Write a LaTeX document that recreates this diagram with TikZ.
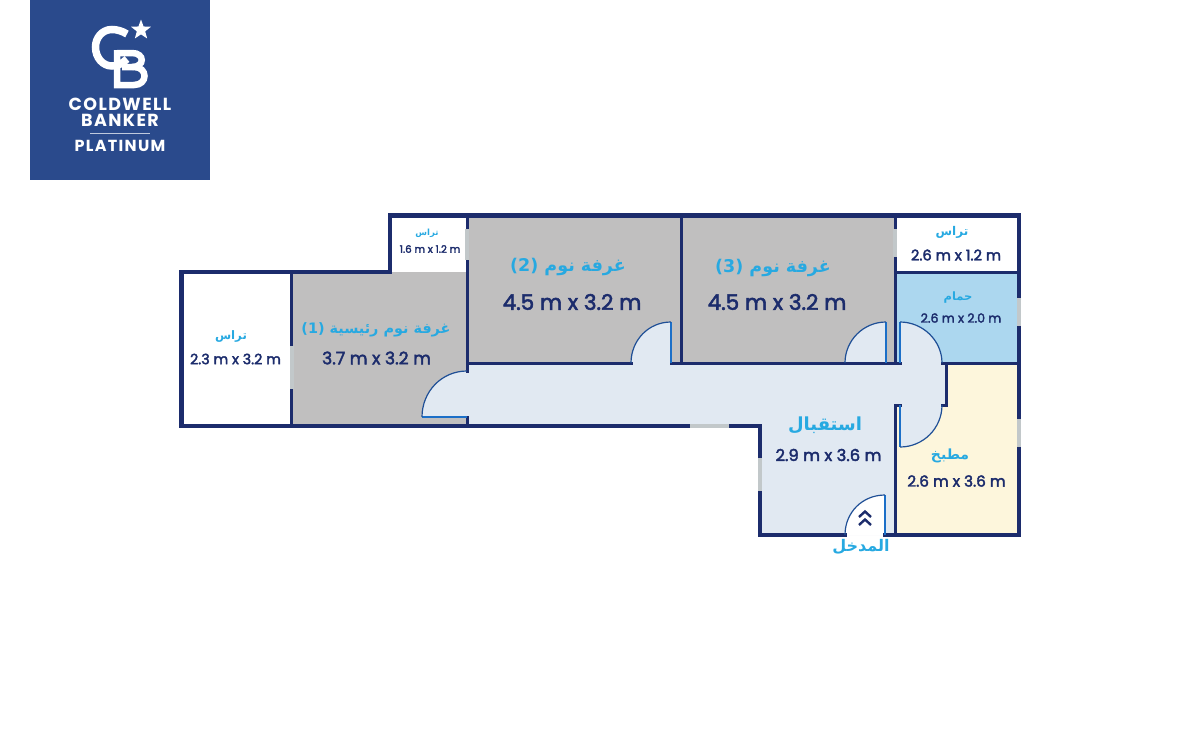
\documentclass[tikz,border=0pt]{standalone}
\usepackage{fontspec}
\setmainfont{Poppins}
\newfontfamily\arabicfont[Script=Arabic]{DejaVu Sans}
\newfontfamily\dimfont[FakeBold=2.5]{Poppins}
\newfontfamily\logofont[LetterSpace=8]{Poppins}
\TeXXeTstate=1
\usetikzlibrary{shapes.geometric}
\definecolor{wallc}{HTML}{1C2C6C}
\definecolor{doorc}{HTML}{1B6FC8}
\definecolor{arcc}{HTML}{1F4F96}
\definecolor{titlec}{HTML}{27A9E1}
\definecolor{hallc}{HTML}{E1E9F2}
\definecolor{bedc}{HTML}{C0BFBF}
\definecolor{bathc}{HTML}{ACD7EF}
\definecolor{kitc}{HTML}{FDF6DC}
\definecolor{logoc}{HTML}{2A4A8C}
\definecolor{winc}{HTML}{C2C8CA}
\newcommand{\ar}[1]{{\arabicfont\beginR #1\endR}}
\tikzset{
  x=1pt,y=-1pt,
  wall/.style={draw=wallc,line width=4.4pt,line cap=rect,line join=miter},
  thinwall/.style={draw=wallc,line width=3pt,line cap=rect},
  winpart/.style={draw=winc,line width=3.6pt},
  leaf/.style={draw=doorc,line width=2.6pt},
  swing/.style={draw=arcc,line width=1.2pt},
  title/.style={text=titlec,inner sep=0pt,font=\bfseries},
  dimtext/.style={text=wallc,inner sep=0pt},
  logotext/.style={text=white,inner sep=0pt},
}
\begin{document}
\begin{tikzpicture}
\useasboundingbox (0,0) rectangle (1200,750);
% logo
\fill[logoc] (30,0) rectangle (210,180);
\draw[white,line width=7.5pt] (127,34) .. controls (122,31) and (117,29.5) .. (112,29.5) .. controls (102,29.5) and (95.5,38) .. (95.5,47) .. controls (95.5,58) and (103,66) .. (112,66) .. controls (117,66) and (122,64) .. (127,59);
\draw[white,line width=6.5pt,line join=miter] (117,50) -- (117,85) -- (134,85) .. controls (148,85) and (148,67) .. (134,67) -- (122,67);
\draw[white,line width=6.5pt] (117,53) -- (132,53) .. controls (145,53) and (145,67) .. (132,67);
\node[star,star points=5,star point ratio=2.4,fill=white,minimum size=21pt,inner sep=0pt] (logostar) at (141,30) {};
\node[logotext,font=\logofont\bfseries\fontsize{17.5}{17.5}\selectfont] (logoa) at (120,104) {COLDWELL};
\node[logotext,font=\logofont\bfseries\fontsize{17.5}{17.5}\selectfont] (logob) at (120,120) {BANKER};
\draw[white!70!logoc,line width=0.8pt] (90,133.5) -- (150,133.5);
\node[logotext,font=\logofont\bfseries\fontsize{16}{16}\selectfont] (logoc) at (120,146) {PLATINUM};
% room fills
\fill[bedc] (291,272) rectangle (467,426);
\fill[bedc] (467,215) rectangle (681,363);
\fill[bedc] (681,215) rectangle (895,363);
\fill[bathc] (895,272) rectangle (1019,363);
\fill[kitc] (895,363) rectangle (1019,535);
\fill[hallc] (467,363) -- (947,363) -- (947,405) -- (895,405) -- (895,535) -- (760,535) -- (760,426) -- (467,426) -- cycle;
% door swings
\fill[hallc] (467,417) -- (422,417) .. controls (422,391.6) and (441.6,371) .. (467,371) -- cycle;
\fill[hallc] (671,363) -- (671,322) .. controls (648.4,322) and (631,340.4) .. (631,363) -- cycle;
\fill[hallc] (886,363) -- (886,322) .. controls (863.4,322) and (845,340.4) .. (845,363) -- cycle;
\fill[hallc] (900,363) -- (900,322) .. controls (922.6,322) and (942,340.4) .. (942,363) -- cycle;
\fill[hallc] (900,405) -- (900,447) .. controls (923.2,447) and (942,428.2) .. (942,405) -- cycle;
\fill[white] (885,535) -- (885,495) .. controls (862.4,495) and (845,512.4) .. (845,535) -- cycle;
% outer walls
\draw[wall] (390,272) -- (390,215.5) -- (1019,215.5) -- (1019,535) -- (885,535);
\draw[wall] (845,535) -- (760,535) -- (760,426) -- (181.5,426) -- (181.5,272) -- (390,272);
% inner walls
\draw[thinwall] (291.7,272) -- (291.7,426);
\draw[thinwall] (467,215) -- (467,371);
\draw[thinwall] (467,417) -- (467,426);
\draw[thinwall] (467,363) -- (631,363);
\draw[thinwall] (671,363) -- (886,363);
\draw[thinwall] (681,215) -- (681,363);
\draw[thinwall] (895,215) -- (895,363);
\draw[thinwall] (895,272.7) -- (1019,272.7);
\draw[thinwall] (886,363) -- (900,363);
\draw[thinwall] (942,363) -- (1019,363);
\draw[thinwall] (946.7,363) -- (946.7,405) -- (942,405);
\draw[thinwall] (900,405) -- (895,405) -- (895,535);
% windows
\draw[winpart] (467,229) -- (467,260);
\draw[winpart] (291.7,346) -- (291.7,389);
\draw[winpart] (690,426) -- (729,426);
\draw[winpart] (760,458) -- (760,491);
\draw[winpart] (895,229) -- (895,257);
\draw[winpart] (1019,298) -- (1019,326);
\draw[winpart] (1019,419) -- (1019,447);
% doors
\draw[leaf] (467,417) -- (422,417);
\draw[swing] (422,417) .. controls (422,391.6) and (441.6,371) .. (467,371);
\draw[leaf] (671,363) -- (671,322);
\draw[swing] (671,322) .. controls (648.4,322) and (631,340.4) .. (631,363);
\draw[leaf] (886,363) -- (886,322);
\draw[swing] (886,322) .. controls (863.4,322) and (845,340.4) .. (845,363);
\draw[leaf] (900,363) -- (900,322);
\draw[swing] (900,322) .. controls (922.6,322) and (942,340.4) .. (942,363);
\draw[leaf] (900,405) -- (900,447);
\draw[swing] (900,447) .. controls (923.2,447) and (942,428.2) .. (942,405);
\draw[leaf] (885,535) -- (885,495);
\draw[swing] (885,495) .. controls (862.4,495) and (845,512.4) .. (845,535);
% entrance chevrons
\draw[wallc,line width=2.4pt] (859,517) -- (865,511.5) -- (871,517);
\draw[wallc,line width=2.4pt] (859,525) -- (865,519.5) -- (871,525);
% labels
\node[title,font=\bfseries\fontsize{11.7}{11.7}\selectfont] (t1) at (231,336) {\ar{تراس}};
\node[dimtext,font=\dimfont\fontsize{14.3}{14.3}\selectfont] (d1) at (235.5,359) {2.3 m x 3.2 m};
\node[title,font=\bfseries\fontsize{14.4}{14.4}\selectfont] (t2) at (376,330) {\ar{غرفة نوم رئيسية (1)}};
\node[dimtext,font=\dimfont\fontsize{17.2}{17.2}\selectfont] (d2) at (376.5,358) {3.7 m x 3.2 m};
\node[title,font=\bfseries\fontsize{8.5}{8.5}\selectfont] (t3) at (427,233) {\ar{تراس}};
\node[dimtext,font=\dimfont\fontsize{10.3}{10.3}\selectfont] (d3) at (430,249) {1.6 m x 1.2 m};
\node[title,font=\bfseries\fontsize{17.5}{17.5}\selectfont] (t4) at (568,267) {\ar{غرفة نوم (2)}};
\node[dimtext,font=\dimfont\fontsize{21.5}{21.5}\selectfont] (d4) at (572,302) {4.5 m x 3.2 m};
\node[title,font=\bfseries\fontsize{17.5}{17.5}\selectfont] (t5) at (773,268) {\ar{غرفة نوم (3)}};
\node[dimtext,font=\dimfont\fontsize{21.5}{21.5}\selectfont] (d5) at (777,302) {4.5 m x 3.2 m};
\node[title,font=\bfseries\fontsize{12}{12}\selectfont] (t6) at (952,232) {\ar{تراس}};
\node[dimtext,font=\dimfont\fontsize{14.7}{14.7}\selectfont] (d6) at (956,255) {2.6 m x 1.2 m};
\node[title,font=\bfseries\fontsize{11.5}{11.5}\selectfont] (t7) at (958,298) {\ar{حمام}};
\node[dimtext,font=\dimfont\fontsize{12.5}{12.5}\selectfont] (d7) at (961,318) {2.6 m x 2.0 m};
\node[title,font=\bfseries\fontsize{18}{18}\selectfont] (t8) at (825,425) {\ar{استقبال}};
\node[dimtext,font=\dimfont\fontsize{16.4}{16.4}\selectfont] (d8) at (828.5,455) {2.9 m x 3.6 m};
\node[title,font=\bfseries\fontsize{14}{14}\selectfont] (t9) at (950,456) {\ar{مطبخ}};
\node[dimtext,font=\dimfont\fontsize{15.2}{15.2}\selectfont] (d9) at (956.5,481) {2.6 m x 3.6 m};
\node[title,font=\bfseries\fontsize{16}{16}\selectfont] (t10) at (861,547) {\ar{المدخل}};
\end{tikzpicture}
\end{document}
